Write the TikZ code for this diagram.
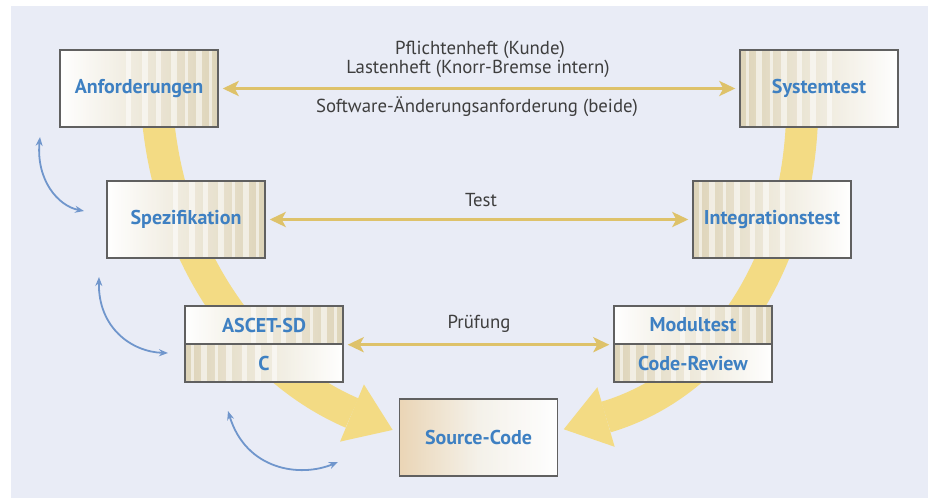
\documentclass[tikz,border=0pt]{standalone}
\usepackage{fontspec}
\setmainfont{PT Sans}
\usetikzlibrary{arrows.meta,calc}
\pgfdeclarelayer{back}
\pgfsetlayers{back,main}
\definecolor{bgblue}{RGB}{233,236,246}
\definecolor{bandyel}{RGB}{243,219,132}
\definecolor{arryel}{RGB}{222,194,106}
\definecolor{boxtxt}{RGB}{62,128,194}
\definecolor{boxline}{RGB}{96,96,96}
\definecolor{stripe}{RGB}{214,202,168}
\definecolor{arcblue}{RGB}{112,150,204}
\definecolor{labtxt}{RGB}{62,62,62}
\tikzset{
  box/.style={draw=boxline, line width=1.4pt, minimum width=158pt, minimum height=77pt,
    inner sep=0pt, font=\fontsize{20}{22}\selectfont\bfseries, text=boxtxt,
    fill=white, fill opacity=0.88, text opacity=1},
  halfbox/.style={box, minimum height=38pt},
  stripesR/.style={path picture={
    \fill[left color=white, right color=stripe, fill opacity=0.8]
      (path picture bounding box.south west) rectangle (path picture bounding box.north east);
    \foreach \a/\b in {0.42/0.45,0.52/0.56,0.61/0.64,0.70/0.74,0.79/0.81,0.86/0.90,0.94/0.96}
      \fill[white, fill opacity=0.55]
        ($(path picture bounding box.north west)!\a!(path picture bounding box.north east)$)
        rectangle ($(path picture bounding box.south west)!\b!(path picture bounding box.south east)$);
  }},
  stripesL/.style={path picture={
    \fill[left color=stripe, right color=white, fill opacity=0.8]
      (path picture bounding box.south west) rectangle (path picture bounding box.north east);
    \foreach \a/\b in {0.04/0.06,0.10/0.14,0.19/0.21,0.26/0.30,0.36/0.39,0.44/0.48,0.55/0.58}
      \fill[white, fill opacity=0.55]
        ($(path picture bounding box.north west)!\a!(path picture bounding box.north east)$)
        rectangle ($(path picture bounding box.south west)!\b!(path picture bounding box.south east)$);
  }},
  warmfill/.style={path picture={
    \fill[left color=stripe!80!orange, right color=white, middle color=stripe!40!white, fill opacity=0.6]
      (path picture bounding box.south west) rectangle (path picture bounding box.north east);
  }},
  band/.style={draw=bandyel, line width=32pt},
  bandhead/.style={fill=bandyel},
  harrow/.style={draw=arryel, line width=3.5pt,
    {Stealth[length=16pt,width=15pt,inset=4pt]}-{Stealth[length=16pt,width=15pt,inset=4pt]},
    shorten <=4pt, shorten >=4pt},
  arcarrow/.style={draw=arcblue, line width=1.8pt,
    {Stealth[length=9pt,width=7pt]}-{Stealth[length=9pt,width=7pt]}},
  lab/.style={font=\fontsize{18.8}{20}\selectfont, text=labtxt, inner sep=0pt}
}
\begin{document}
\begin{tikzpicture}[x=1pt,y=-1pt]
\useasboundingbox (0,0) rectangle (928,498);

% boxes of the V model
\path
  node[box, stripesR] (anf)  at (139,88.5)  {Anforderungen}
  node[box, stripesL] (sys)  at (819,88.5)  {Systemtest}
  node[box, stripesR] (spez) at (186,219.5) {Spezifikation}
  node[box, stripesL] (integ) at (772,219.5) {Integrationstest}
  node[halfbox, stripesR] (ascet) at (264,325) {ASCET-SD}
  node[halfbox, stripesL] (cnode) at (264,363) {C}
  node[halfbox, stripesR] (modul) at (693,325) {Modultest}
  node[halfbox, stripesL] (review) at (693,363) {Code-Review}
  node[box, warmfill] (src) at (478.5,437.5) {Source-Code};

\begin{pgfonlayer}{back}
  % page background
  \fill[white] (0,0) rectangle (928,498);
  \fill[bgblue] (11,6) rectangle (928,498);

  % wide yellow bands of the V, each ending in a broad arrow head
  \coordinate (lB) at (352,413);
  \coordinate (lT) at ($(lB)!44pt!(394,430.5)$);
  \coordinate (rB) at (606,417);
  \coordinate (rT) at ($(rB)!44pt!(563,429.5)$);
  \draw[band] ([xshift=19pt,yshift=8pt]anf.south) .. controls (172,260) and (252,370) .. (lB);
  \fill[bandhead] ($(lB)!31pt!90:(lT)$) -- (lT) -- ($(lB)!31pt!-90:(lT)$) -- cycle;
  \draw[band] ([xshift=-17pt,yshift=8pt]sys.south) .. controls (796,270) and (715,385) .. (rB);
  \fill[bandhead] ($(rB)!31pt!90:(rT)$) -- (rT) -- ($(rB)!31pt!-90:(rT)$) -- cycle;

  % iteration arrows on the left side
  \coordinate (a1s) at (40,137);  \coordinate (a1e) at (84,211);
  \coordinate (a2s) at (99,277);  \coordinate (a2e) at (168,353);
  \coordinate (a3s) at (228,411); \coordinate (a3e) at (338,462);
  \draw[arcarrow] (a1s) .. controls (36,180) and (58,206) .. (a1e);
  \draw[arcarrow] (a2s) .. controls (98,328) and (132,352) .. (a2e);
  \draw[arcarrow] (a3s) .. controls (246,470) and (300,478) .. (a3e);
\end{pgfonlayer}

% test relations between the two branches
\draw[harrow] (anf) -- (sys);
\draw[harrow] (spez) -- (integ);
\draw[harrow] (ascet.south east) -- (modul.south west);

\node[lab] (l1) at (480,50)  {Pflichtenheft (Kunde)};
\node[lab] (l2) at (478,69)  {Lastenheft (Knorr-Bremse intern)};
\node[lab] (l3) at (477,107) {Software-Änderungsanforderung (beide)};
\node[lab] (l4) at (481,200) {Test};
\node[lab] (l5) at (479,324) {Prüfung};
\end{tikzpicture}
\end{document}
